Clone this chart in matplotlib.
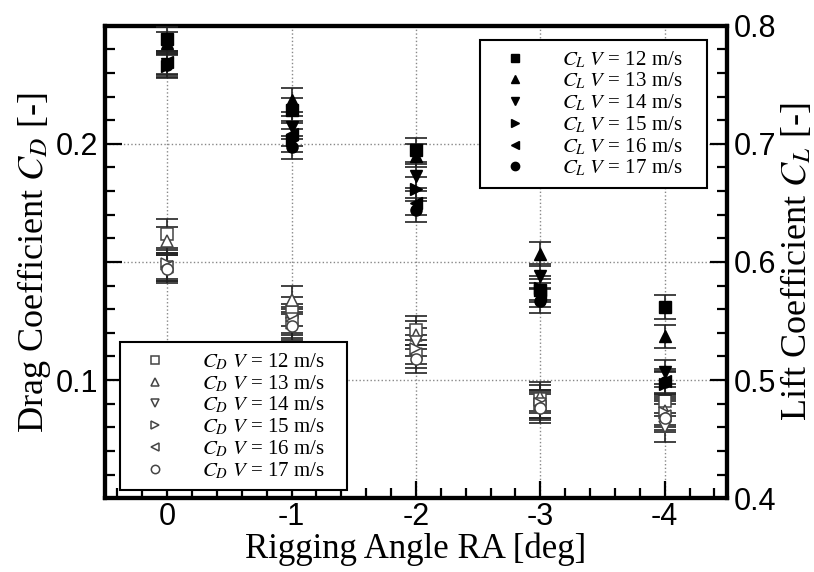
import numpy as np
import matplotlib
matplotlib.use('Agg')
import matplotlib.pyplot as plt
from matplotlib.ticker import MultipleLocator, FuncFormatter

angles = [0, -1, -2, -3, -4]
speeds = [12, 13, 14, 15, 16, 17]

# lift coefficient (right axis), one list per speed
cl_12 = [0.789, 0.729, 0.695, 0.576, 0.562]
cl_13 = [0.785, 0.737, 0.690, 0.607, 0.537]
cl_14 = [0.768, 0.714, 0.673, 0.588, 0.507]
cl_15 = [0.766, 0.703, 0.662, 0.578, 0.497]
cl_16 = [0.769, 0.708, 0.650, 0.572, 0.499]
cl_17 = [0.767, 0.697, 0.644, 0.567, 0.498]

# drag coefficient (left axis)
cd_12 = [0.162, 0.129, 0.121, 0.092, 0.091]
cd_13 = [0.159, 0.134, 0.119, 0.093, 0.087]
cd_14 = [0.148, 0.126, 0.116, 0.090, 0.080]
cd_15 = [0.149, 0.124, 0.113, 0.090, 0.086]
cd_16 = [0.148, 0.125, 0.111, 0.089, 0.085]
cd_17 = [0.147, 0.123, 0.109, 0.088, 0.084]

cl_err = 0.01
cd_err = 0.006

cl_all = [cl_12, cl_13, cl_14, cl_15, cl_16, cl_17]
cd_all = [cd_12, cd_13, cd_14, cd_15, cd_16, cd_17]
markers = ['s', '^', 'v', '>', '<', 'o']

plt.rcParams['mathtext.fontset'] = 'stix'
serif = ['Liberation Serif', 'DejaVu Serif']
ticksans = ['Liberation Sans Narrow', 'Liberation Sans', 'DejaVu Sans']

fig = plt.figure(figsize=(8.14, 5.72), dpi=100)
ax = fig.add_axes([0.129, 0.129, 0.764, 0.826])
ax2 = ax.twinx()

cd_handles = []
for i in range(len(speeds)):
    ax.errorbar(angles, cd_all[i], yerr=cd_err, fmt='none', ecolor='#222222',
                elinewidth=1.2, capsize=8, capthick=1.2, zorder=3)
    h, = ax.plot(angles, cd_all[i], linestyle='none', marker=markers[i], ms=8,
                 mfc='white', mec='#444444', mew=1.1, zorder=4,
                 label=r'$C_D\ V$ = %d m/s' % speeds[i])
    cd_handles.append(h)

cl_handles = []
for i in range(len(speeds)):
    ax2.errorbar(angles, cl_all[i], yerr=cl_err, fmt='none', ecolor='#222222',
                 elinewidth=1.2, capsize=8, capthick=1.2, zorder=3)
    h, = ax2.plot(angles, cl_all[i], linestyle='none', marker=markers[i], ms=8,
                  mfc='black', mec='black', zorder=4,
                  label=r'$C_L\ V$ = %d m/s' % speeds[i])
    cl_handles.append(h)

ax.set_xlim(0.5, -4.5)
ax.set_ylim(0.05, 0.25)
ax2.set_ylim(0.4, 0.8)

ax.xaxis.set_major_locator(MultipleLocator(1))
ax.xaxis.set_minor_locator(MultipleLocator(0.2))
ax.xaxis.set_major_formatter(FuncFormatter(lambda v, p: '%d' % round(v)))
ax.yaxis.set_major_locator(MultipleLocator(0.05))
ax.yaxis.set_minor_locator(MultipleLocator(0.01))
ax.yaxis.set_major_formatter(FuncFormatter(
    lambda v, p: ('%.1f' % v) if abs(v * 10 - round(v * 10)) < 1e-6 and 0.06 < v < 0.24 else ''))
ax2.yaxis.set_major_locator(MultipleLocator(0.1))
ax2.yaxis.set_minor_locator(MultipleLocator(0.02))
ax2.yaxis.set_major_formatter(FuncFormatter(lambda v, p: '%.1f' % v))

ax.grid(True, which='major', linestyle=':', color='#888888', linewidth=1)
ax.set_axisbelow(True)

ax.tick_params(which='both', direction='in', top=False, right=False, width=1.6)
ax.tick_params(which='major', length=12, labelsize=22, pad=5)
ax.tick_params(axis='x', which='major', pad=3)
ax.tick_params(which='minor', length=7)
ax2.tick_params(which='both', direction='in', width=1.6)
ax2.tick_params(which='major', length=12, labelsize=22, pad=5)
ax2.tick_params(which='minor', length=7)
for lab in ax.get_xticklabels() + ax.get_yticklabels() + ax2.get_yticklabels():
    lab.set_family(ticksans)

for a in (ax, ax2):
    for s in a.spines.values():
        s.set_linewidth(3)

ax.set_xlabel('Rigging Angle RA [deg]', fontsize=25, family=serif, labelpad=0)
ax.set_ylabel(r'Drag Coefficient $C_D$ [-]', fontsize=26, family=serif, labelpad=2)
ax2.set_ylabel(r'Lift Coefficient $C_L$ [-]', fontsize=26, family=serif,
               rotation=90, labelpad=2)

leg_kw = dict(prop={'family': serif, 'size': 15}, frameon=True, fancybox=False,
              edgecolor='black', handlelength=2.5, handletextpad=1.0,
              borderpad=0.45, labelspacing=0.05, markerscale=0.75,
              borderaxespad=0, mode='expand')
leg_cl = ax2.legend(handles=cl_handles, loc='upper left',
                    bbox_to_anchor=(0.603, 0.661, 0.365, 0.309), **leg_kw)
leg_cl.get_frame().set_linewidth(1.5)
leg_cl.get_frame().set_alpha(1)
ax2.add_artist(leg_cl)
leg_cd = ax2.legend(handles=cd_handles, loc='lower left',
                    bbox_to_anchor=(0.024, 0.017, 0.365, 0.307), **leg_kw)
leg_cd.get_frame().set_linewidth(1.5)
leg_cd.get_frame().set_alpha(1)

fig.savefig('out.png', dpi=100)
